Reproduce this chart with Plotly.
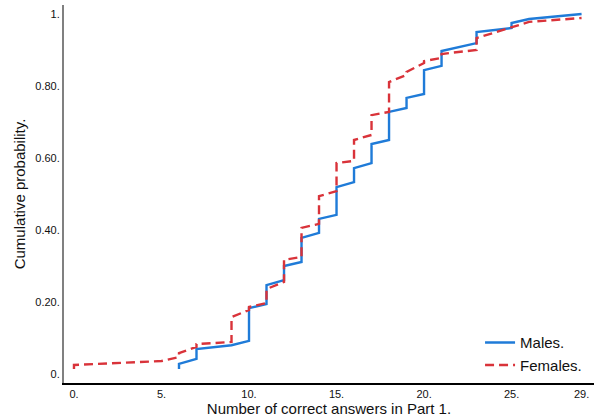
import plotly.graph_objects as go

# Males: score values where steps occur, value before and after the jump
male_x = [6, 7, 9, 10, 11, 12, 13, 14, 15, 16, 17, 18, 19, 20, 21, 23, 25, 26, 29]
male_lo = [0.014, 0.042, 0.080, 0.092, 0.194, 0.261, 0.311, 0.392, 0.442, 0.533,
           0.586, 0.650, 0.739, 0.778, 0.856, 0.919, 0.961, 0.986, 1.000]
male_hi = [0.028, 0.069, 0.080, 0.183, 0.247, 0.300, 0.378, 0.431, 0.519, 0.572,
           0.639, 0.728, 0.767, 0.844, 0.897, 0.950, 0.975, 0.986, 1.000]

# Females
female_x = [0, 5, 6, 7, 9, 10, 11, 12, 13, 14, 15, 16, 17, 18, 19, 20, 21, 23, 25, 26, 29]
female_lo = [0.014, 0.036, 0.047, 0.075, 0.089, 0.178, 0.197, 0.256, 0.325, 0.417, 0.508,
             0.592, 0.664, 0.728, 0.831, 0.864, 0.878, 0.900, 0.964, 0.978, 0.989]
female_hi = [0.025, 0.036, 0.058, 0.083, 0.158, 0.186, 0.236, 0.317, 0.406, 0.494, 0.586,
             0.650, 0.719, 0.811, 0.839, 0.869, 0.889, 0.933, 0.964, 0.978, 0.989]

x_tickvals = [0, 5, 10, 15, 20, 25, 29]
x_ticktext = ["0.", "5.", "10.", "15.", "20.", "25.", "29."]
y_tickvals = [0, 0.2, 0.4, 0.6, 0.8, 1.0]
y_ticktext = ["0.", "0.20.", "0.40.", "0.60.", "0.80.", "1."]


def step_path(xs, lo, hi):
    px, py = [], []
    for x, a, b in zip(xs, lo, hi):
        px += [x, x]
        py += [a, b]
    return px, py


mx, my = step_path(male_x, male_lo, male_hi)
fx, fy = step_path(female_x, female_lo, female_hi)

fig = go.Figure()
fig.add_trace(go.Scatter(x=mx, y=my, mode="lines", name="Males.",
                         line=dict(color="#1f7bd8", width=2.4)))
fig.add_trace(go.Scatter(x=fx, y=fy, mode="lines", name="Females.",
                         line=dict(color="#d9333a", width=2.4, dash="9px,5px")))

font = "Liberation Sans, Arial, sans-serif"
fig.update_layout(
    width=604, height=419,
    margin=dict(l=64, r=10, t=5, b=36),
    paper_bgcolor="white", plot_bgcolor="white",
    font=dict(family=font, color="#111111"),
    showlegend=True,
    legend=dict(x=0.785, y=0.15, xanchor="left", yanchor="top",
                bgcolor="rgba(0,0,0,0)", font=dict(size=15, color="#111111"),
                tracegroupgap=0),
    xaxis=dict(range=[-0.57, 29.71], tickvals=x_tickvals, ticktext=x_ticktext,
               showgrid=False, zeroline=False, showline=True, linecolor="black",
               linewidth=1.5, ticks="", tickfont=dict(size=11),
               title=dict(text="Number of correct answers in Part 1.",
                          font=dict(size=15), standoff=4)),
    yaxis=dict(range=[-0.025, 1.025], tickvals=y_tickvals, ticktext=y_ticktext,
               showgrid=False, zeroline=False, showline=True, linecolor="#808080",
               linewidth=2, ticks="", tickfont=dict(size=11),
               title=dict(text="Cumulative probability.", font=dict(size=15),
                          standoff=6)),
)

fig.write_html("out.html")
